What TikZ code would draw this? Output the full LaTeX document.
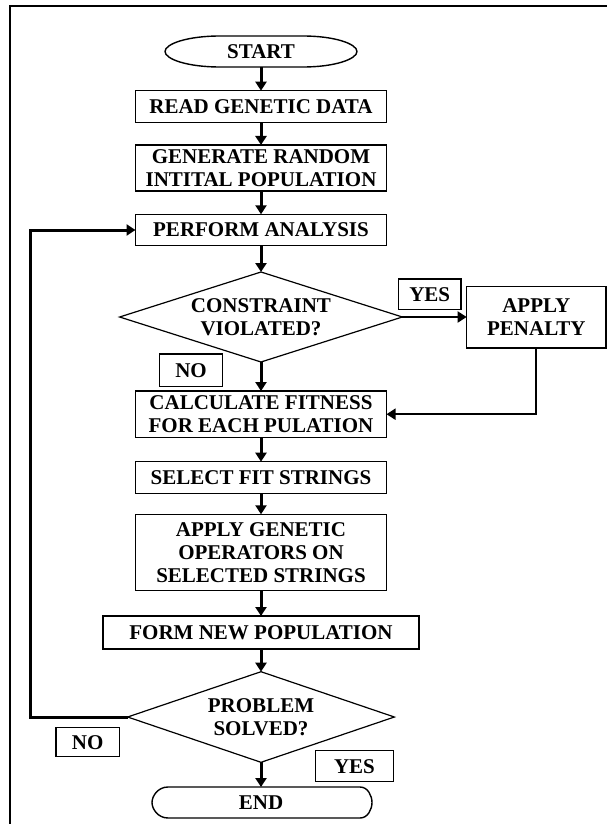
\documentclass[tikz,border=0pt]{standalone}
\usepackage{fontspec}
\setmainfont{Liberation Serif}
\usetikzlibrary{arrows.meta,shapes.geometric}
\begin{document}
\begin{tikzpicture}[x=1pt,y=-1pt,
  txt/.style={font=\fontsize{21}{23}\selectfont\bfseries, align=center, inner sep=0pt, outer sep=0pt},
  box/.style={txt, draw, line width=1.5pt, minimum width=#1},
  hbox/.style={minimum height=#1},
  dia/.style={txt, diamond, draw, line width=1.2pt},
  term/.style={line width=1.4pt},
  arr/.style={line width=3pt, -{Triangle[length=9pt,width=11pt]}},
  side/.style={line width=2pt, -{Triangle[length=9pt,width=11pt]}},
  fb/.style={line width=3pt, -{Triangle[length=9pt,width=11pt]}}
]
\useasboundingbox (0,0) rectangle (607,824);
% frame
\draw[line width=2.6pt] (10,6) rectangle (660,880);

% terminator outlines
\draw[term] (220,36) -- (303,36) .. controls (335,36) and (357,44) .. (357,51.5)
  .. controls (357,59) and (335,67) .. (303,67) -- (220,67)
  .. controls (187,67) and (165,59) .. (165,51.5)
  .. controls (165,44) and (187,36) .. (220,36) -- cycle;
\draw[term] (168,787) -- (360,787) .. controls (368,787) and (372,796) .. (372,802.5)
  .. controls (372,809) and (368,818) .. (360,818) -- (168,818)
  .. controls (158,818) and (152,809) .. (152,802.5)
  .. controls (152,796) and (158,787) .. (168,787) -- cycle;

\node[txt, minimum width=192, minimum height=31] (start) at (261,51.5) {START};
\node[box=251, hbox=31.6] (read) at (261,106.5) {READ GENETIC DATA};
\node[box=251, hbox=46] (gen) at (261,168) {GENERATE RANDOM\\INTITAL POPULATION};
\node[box=251, hbox=31.4] (perf) at (261,230) {PERFORM ANALYSIS};
\node[dia, aspect=3.14, minimum width=282.7, minimum height=90] (d1) at (261,317) {CONSTRAINT\\VIOLATED?};
\node[box=139.3, hbox=61.3] (pen) at (536.3,317.3) {APPLY\\PENALTY};
\node[box=62.7, hbox=30.3] (yes1) at (429.7,294.2) {YES};
\node[box=63.4, hbox=32.7] (no1) at (191,370.3) {NO};
\node[box=251, hbox=46.3] (calc) at (261,414.2) {CALCULATE FITNESS\\FOR EACH PULATION};
\node[box=251, hbox=31.6] (sel) at (261,477.5) {SELECT FIT STRINGS};
\node[box=251, hbox=76.4] (ops) at (261,552.5) {APPLY GENETIC\\OPERATORS ON\\SELECTED STRINGS};
\node[box=316, hbox=33] (form) at (261,632.5) {FORM NEW POPULATION};
\node[dia, aspect=2.94, minimum width=266.7, minimum height=90.6] (d2) at (261,717) {PROBLEM\\SOLVED?};
\node[box=63.3, hbox=29] (no2) at (87.7,742.2) {NO};
\node[box=77.6, hbox=31] (yes2) at (354.5,766.2) {YES};
\node[txt, minimum width=220, minimum height=31] (end) at (261,802.5) {END};
\coordinate (fbc) at (30,717);

\draw[arr] (start.south) -- (read.north);
\draw[arr] (read.south) -- (gen.north);
\draw[arr] (gen.south) -- (perf.north);
\draw[arr] (perf.south) -- (d1.north);
\draw[arr] (d1.south) -- (calc.north);
\draw[arr] (calc.south) -- (sel.north);
\draw[arr] (sel.south) -- (ops.north);
\draw[arr] (ops.south) -- (form.north);
\draw[arr] (form.south) -- (d2.north);
\draw[arr] (d2.south) -- (end.north);
\draw[side] (d1.east) -- (d1.east -| pen.west);
\draw[side] (pen.south) |- (calc.east);
\draw[fb] (d2.west) -- (fbc) |- (perf.west);
\end{tikzpicture}
\end{document}
